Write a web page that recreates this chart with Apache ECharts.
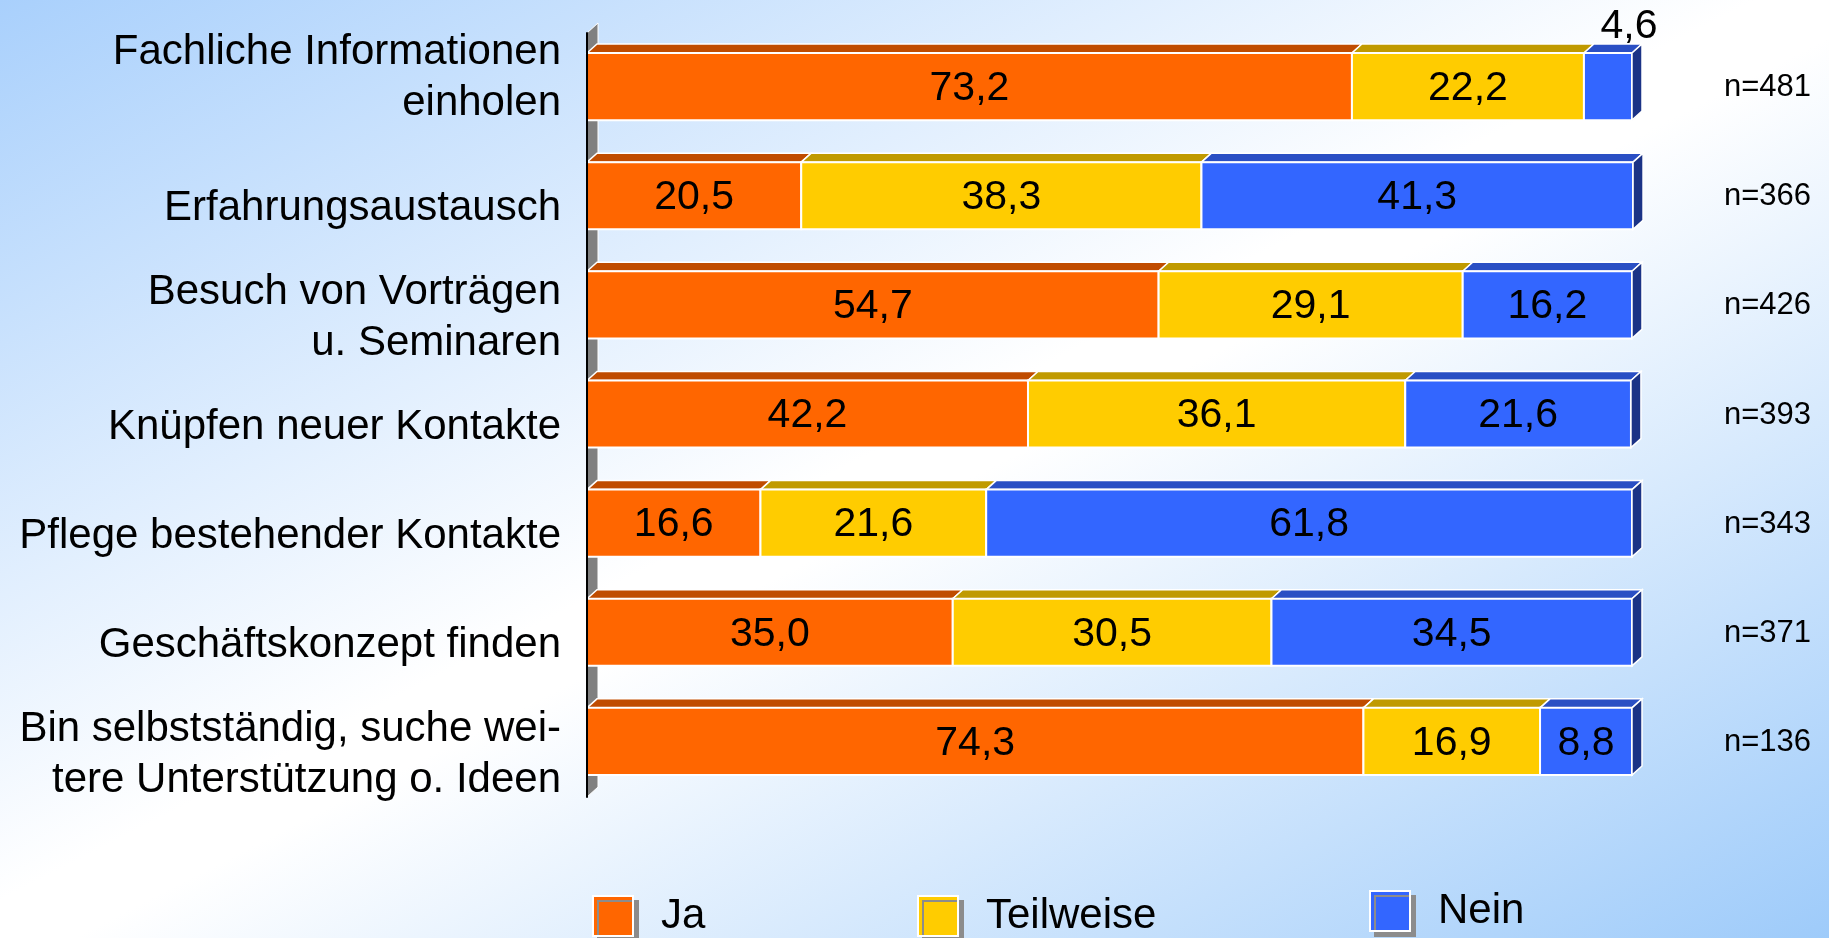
<!DOCTYPE html>
<html>
<head>
<meta charset="utf-8">
<script src="https://cdn.jsdelivr.net/npm/echarts@6/dist/echarts.min.js"></script>
<style>
  html, body { margin: 0; padding: 0; }
  body { background: linear-gradient(to bottom right, #a9d0fc 0%, #ffffff 48%, #ffffff 52%, #9ecbfa 100%); }
  #chart { width: 1829px; height: 938px; }
</style>
</head>
<body>
<div id="chart"></div>
<script>
var categories = [
  'Fachliche Informationen\neinholen',
  'Erfahrungsaustausch',
  'Besuch von Vorträgen\nu. Seminaren',
  'Knüpfen neuer Kontakte',
  'Pflege bestehender Kontakte',
  'Geschäftskonzept finden',
  'Bin selbstständig, suche wei-\ntere Unterstützung o. Ideen'
]
var ja = [73.2, 20.5, 54.7, 42.2, 16.6, 35.0, 74.3]
var teilweise = [22.2, 38.3, 29.1, 36.1, 21.6, 30.5, 16.9]
var nein = [4.6, 41.3, 16.2, 21.6, 61.8, 34.5, 8.8]
var nLabels = ['n=481', 'n=366', 'n=426', 'n=393', 'n=343', 'n=371', 'n=136']

var FONT = '"Liberation Sans", Arial, sans-serif'
// 3D-Tiefe der Balken
var DX = 10
var DY = 9

// Segmente für gestapelte Balken: [Kategorie, Start, Ende, Wert]
function segments (vals, before) {
  return vals.map(function (v, i) {
    var s = 0
    for (var k = 0; k < before.length; k++) s += before[k][i]
    return [i, s, s + v, v]
  })
}

function fmt (v) {
  return v.toFixed(1).replace('.', ',')
}

function barRender (front, top, side, last) {
  return function (params, api) {
    var cat = api.value(0)
    var a = api.coord([api.value(1), cat])
    var b = api.coord([api.value(2), cat])
    var v = api.value(3)
    var h = api.size([0, 1])[1] * 0.615
    var x0 = a[0]
    var x1 = b[0]
    var y0 = a[1] - h / 2 - 1
    var children = [{
      type: 'polygon',
      shape: { points: [[x0, y0], [x0 + DX, y0 - DY], [x1 + DX, y0 - DY], [x1, y0]] },
      style: { fill: top, stroke: '#fff', lineWidth: 1.5 }
    }, {
      type: 'rect',
      shape: { x: x0, y: y0, width: x1 - x0, height: h },
      style: { fill: front, stroke: '#fff', lineWidth: 2 }
    }]
    if (last) {
      children.push({
        type: 'polygon',
        shape: { points: [[x1, y0], [x1 + DX, y0 - DY], [x1 + DX, y0 + h - DY], [x1, y0 + h]] },
        style: { fill: side, stroke: '#fff', lineWidth: 1.5 }
      })
    }
    var inside = (x1 - x0) > 55
    children.push({
      type: 'text',
      style: {
        text: fmt(v),
        x: inside ? (x0 + x1) / 2 : (x0 + x1) / 2 + 21,
        y: inside ? y0 + h / 2 + 2 : y0 - DY - 17,
        align: 'center',
        verticalAlign: 'middle',
        font: '41px ' + FONT,
        fill: '#000'
      }
    })
    return { type: 'group', children: children }
  }
}

// graue Seitenwand an der Achse
function wallRender (params, api) {
  var cs = params.coordSys
  return {
    type: 'polygon',
    shape: { points: [[cs.x, cs.y], [cs.x + DX + 1, cs.y - DY - 1], [cs.x + DX + 1, cs.y + cs.height - DY - 1], [cs.x, cs.y + cs.height]] },
    style: { fill: '#808080', stroke: '#fff', lineWidth: 1 },
    silent: true
  }
}

var legendBase = {
  icon: 'rect',
  itemWidth: 40,
  itemHeight: 40,
  padding: 0,
  selectedMode: false,
  itemStyle: { borderColor: '#fff', borderWidth: 2, shadowColor: '#8c8c8c', shadowOffsetX: 5, shadowOffsetY: 5, shadowBlur: 0 },
  textStyle: { fontSize: 42, fontFamily: FONT, color: '#000', padding: [0, 0, 0, 23] }
}

var chart = echarts.init(document.getElementById('chart'))
chart.setOption({
  backgroundColor: 'transparent',
  animation: false,
  grid: { left: 587, right: 197, top: 33, bottom: 141 },
  legend: [
    Object.assign({}, legendBase, { data: ['Ja'], left: 592, top: 895 }),
    Object.assign({}, legendBase, { data: ['Teilweise'], left: 917, top: 895 }),
    Object.assign({}, legendBase, { data: ['Nein'], left: 1369, top: 890 })
  ],
  xAxis: { type: 'value', min: 0, max: 100, show: false },
  yAxis: [{
    type: 'category',
    data: categories,
    inverse: true,
    z: 5,
    axisLine: { show: true, lineStyle: { color: '#000', width: 2 } },
    axisTick: { show: false },
    axisLabel: {
      interval: 0,
      showMinLabel: true,
      showMaxLabel: true,
      fontSize: 42,
      fontFamily: FONT,
      color: '#000',
      margin: 26,
      lineHeight: 51,
      align: 'right',
      padding: [24, 0, 0, 0],
      formatter: function (val, idx) {
        return idx === 0 ? val + '\n{s| }' : val
      },
      rich: { s: { lineHeight: 44, fontSize: 10 } }
    }
  }, {
    type: 'category',
    data: nLabels,
    inverse: true,
    position: 'right',
    axisLine: { show: false },
    axisTick: { show: false },
    axisLabel: { interval: 0, fontSize: 31, fontFamily: FONT, color: '#000', margin: 92, align: 'left' }
  }],
  series: [{
    name: 'wall',
    type: 'custom',
    z: 1,
    silent: true,
    renderItem: wallRender,
    data: [[0, 0, 0, 0]],
    encode: { x: 1, y: 0 }
  }, {
    name: 'Ja',
    type: 'custom',
    z: 2,
    itemStyle: { color: '#FF6600' },
    renderItem: barRender('#FF6600', '#C04C00', null, false),
    data: segments(ja, []),
    encode: { x: [1, 2], y: 0 }
  }, {
    name: 'Teilweise',
    type: 'custom',
    z: 2,
    itemStyle: { color: '#FFCC00' },
    renderItem: barRender('#FFCC00', '#C09A00', null, false),
    data: segments(teilweise, [ja]),
    encode: { x: [1, 2], y: 0 }
  }, {
    name: 'Nein',
    type: 'custom',
    z: 2,
    itemStyle: { color: '#3366FF' },
    renderItem: barRender('#3366FF', '#2A4FC4', '#1B3386', true),
    data: segments(nein, [ja, teilweise]),
    encode: { x: [1, 2], y: 0 }
  }]
})
</script>
</body>
</html>
